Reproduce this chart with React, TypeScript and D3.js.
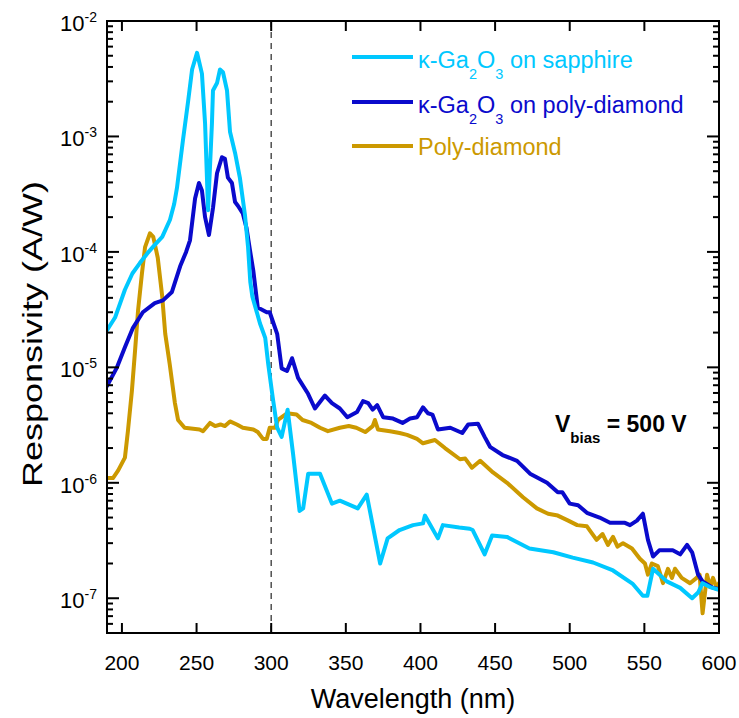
import React from "react";
import * as d3 from "d3";

// wavelength (nm) and responsivity (A/W)
const sapphireWl = [190, 195.4, 202, 207, 212, 217, 222, 227, 232.2, 235, 236.9, 240.9, 244.3, 247, 250.3, 253.6, 255.7, 257.7, 260.3, 261, 263.7, 265.7, 267.7, 270.4, 272.4, 275.8, 279, 282.4, 284.5, 286, 287.4, 292.5, 296, 298, 301, 304, 307, 311, 314.6, 319, 321.4, 324.8, 332.7, 340.7, 346, 358, 364, 373, 378, 386, 395, 401.7, 403, 411.7, 415, 426, 433, 435, 443, 448, 458, 473, 489, 502, 515.6, 529, 542, 549, 552, 555.8, 565, 574, 582, 586, 589, 594, 600];
const sapphireR = [2.1e-5, 2.7e-5, 4.7e-5, 6.5e-5, 8e-5, 9.7e-5, 1.15e-4, 1.35e-4, 1.9e-4, 2.6e-4, 3.6e-4, 9.3e-4, 2.0e-3, 3.8e-3, 5.3e-3, 3.5e-3, 1.3e-3, 2.3e-4, 1.3e-3, 2.5e-3, 2.9e-3, 3.8e-3, 3.6e-3, 2.5e-3, 1.1e-3, 7.2e-4, 4.4e-4, 2.1e-4, 1.1e-4, 5.5e-5, 4.1e-5, 2.4e-5, 1.8e-5, 1.07e-5, 5.5e-6, 3.0e-6, 2.5e-6, 4.3e-6, 1.8e-6, 5.7e-7, 6.0e-7, 1.2e-6, 1.2e-6, 6.6e-7, 7.0e-7, 6.0e-7, 7.9e-7, 2.0e-7, 3.3e-7, 3.9e-7, 4.3e-7, 4.45e-7, 5.2e-7, 3.3e-7, 4.3e-7, 4.1e-7, 4.0e-7, 3.9e-7, 2.4e-7, 3.5e-7, 3.4e-7, 2.7e-7, 2.5e-7, 2.25e-7, 2.04e-7, 1.74e-7, 1.34e-7, 1.05e-7, 1.05e-7, 1.8e-7, 1.4e-7, 1.23e-7, 1.0e-7, 1.12e-7, 1.35e-7, 1.25e-7, 1.18e-7];

const polyGaWl = [190, 196.7, 202, 207.4, 214, 222, 227.5, 233.5, 239, 243, 245.6, 249, 251.6, 253.6, 255.7, 258.3, 261, 263.7, 267, 269, 271, 273.7, 275.8, 277.8, 281, 283.5, 285.8, 288, 291, 297, 299, 304, 307, 310.6, 314, 318, 324.7, 329.3, 336, 340.7, 346, 351, 357.5, 361.5, 365, 368, 371, 375, 381.6, 388, 393, 397.7, 401.7, 405, 408, 411.7, 420, 428, 432, 438.5, 443, 446.6, 455, 464.7, 473.4, 484.8, 492, 495, 500, 505.6, 511.5, 520, 527, 537, 540.4, 545, 549, 552.4, 555.8, 560, 569, 574, 578.6, 582, 586, 589, 596, 600];
const polyGaR = [6.9e-6, 1.0e-5, 1.49e-5, 2.2e-5, 3.0e-5, 3.6e-5, 3.8e-5, 4.5e-5, 7.5e-5, 1.0e-4, 1.26e-4, 2.9e-4, 3.95e-4, 3.4e-4, 2.0e-4, 1.4e-4, 2.4e-4, 4.8e-4, 6.6e-4, 6.4e-4, 4.4e-4, 3.95e-4, 2.7e-4, 2.5e-4, 2.15e-4, 1.6e-4, 1.03e-4, 6.9e-5, 3.3e-5, 3.0e-5, 3.0e-5, 1.95e-5, 9.8e-6, 9.3e-6, 1.2e-5, 8.1e-6, 5.9e-6, 4.4e-6, 5.7e-6, 4.9e-6, 4.4e-6, 3.7e-6, 4.1e-6, 5.1e-6, 4.9e-6, 4.3e-6, 4.7e-6, 3.7e-6, 3.6e-6, 3.3e-6, 3.6e-6, 3.7e-6, 4.5e-6, 4.0e-6, 3.9e-6, 2.9e-6, 3.0e-6, 2.7e-6, 3.2e-6, 3.25e-6, 2.5e-6, 2.05e-6, 1.74e-6, 1.55e-6, 1.2e-6, 1.0e-6, 8.3e-7, 8.3e-7, 6.6e-7, 6.4e-7, 5.5e-7, 5.0e-7, 4.5e-7, 4.5e-7, 4.3e-7, 4.7e-7, 5.4e-7, 3.2e-7, 2.3e-7, 2.6e-7, 2.6e-7, 2.4e-7, 2.9e-7, 2.5e-7, 1.6e-7, 1.4e-7, 1.23e-7, 1.2e-7];

const diamondWl = [190, 194, 197.5, 202, 204, 206.7, 208.8, 210.8, 213.4, 215.5, 218.8, 221, 224, 227, 229, 232, 235.5, 237.6, 242, 252, 254.3, 259, 262.4, 266, 269, 272.4, 277, 281, 288, 291, 294.5, 297, 299, 302.6, 304.5, 310.6, 317, 321, 327, 332.7, 338, 346, 352, 357, 363, 368, 369.5, 371.5, 379.6, 386, 391, 397.7, 401.7, 409.7, 416.4, 426.5, 430, 434.5, 440, 448.6, 458, 468.7, 478, 485.5, 492, 499, 505, 511.5, 518, 522, 525.6, 529, 532, 535.7, 541.7, 547, 550.4, 552.4, 555, 559, 562.5, 565.8, 568.5, 570.5, 575, 580.6, 585, 587, 589, 592, 594, 596, 598.7, 600];
const diamondR = [1.1e-6, 1.1e-6, 1.28e-6, 1.65e-6, 2.8e-6, 6.3e-6, 1.4e-5, 3.1e-5, 6.5e-5, 1.1e-4, 1.45e-4, 1.35e-4, 8.9e-5, 4.1e-5, 1.96e-5, 1.07e-5, 4.9e-6, 3.5e-6, 3.0e-6, 2.9e-6, 2.8e-6, 3.3e-6, 3.1e-6, 3.2e-6, 3.1e-6, 3.4e-6, 3.2e-6, 3.0e-6, 2.9e-6, 2.75e-6, 2.4e-6, 2.4e-6, 3.0e-6, 3.0e-6, 3.5e-6, 4.0e-6, 3.9e-6, 3.5e-6, 3.3e-6, 3.0e-6, 2.8e-6, 3.0e-6, 3.1e-6, 3.0e-6, 2.75e-6, 3.1e-6, 3.5e-6, 2.9e-6, 2.8e-6, 2.7e-6, 2.6e-6, 2.4e-6, 2.2e-6, 2.35e-6, 2.0e-6, 1.6e-6, 1.62e-6, 1.35e-6, 1.55e-6, 1.23e-6, 1.0e-6, 7.5e-7, 6.0e-7, 5.4e-7, 5.2e-7, 4.7e-7, 4.3e-7, 4.2e-7, 3.2e-7, 3.6e-7, 2.9e-7, 3.4e-7, 2.8e-7, 3.0e-7, 2.7e-7, 2.2e-7, 2.0e-7, 1.6e-7, 2.0e-7, 1.9e-7, 1.35e-7, 1.8e-7, 1.5e-7, 1.8e-7, 1.5e-7, 1.35e-7, 1.5e-7, 1.6e-7, 7.4e-8, 1.6e-7, 1.25e-7, 1.5e-7, 1.2e-7, 1.35e-7];

const xTicks = [200, 250, 300, 350, 400, 450, 500, 550, 600];
const yDecades = [-7, -6, -5, -4, -3, -2];

const COL_SAPPHIRE = "#00C8FF";
const COL_POLY = "#0A0ACC";
const COL_DIAMOND = "#CC9900";

const W = 739;
const H = 718;
const left = 107, right = 719, top = 21, bottom = 633;

export default function App() {
  const x = d3.scaleLinear().domain([190, 600]).range([left, right]);
  const y = d3.scaleLog().domain([5e-8, 1e-2]).range([bottom, top]);

  const line = d3
    .line<[number, number]>()
    .x((d) => x(d[0]))
    .y((d) => y(d[1]));

  const series = [
    { wl: diamondWl, r: diamondR, color: COL_DIAMOND },
    { wl: polyGaWl, r: polyGaR, color: COL_POLY },
    { wl: sapphireWl, r: sapphireR, color: COL_SAPPHIRE },
  ];

  // minor ticks for the log axis
  const minor: number[] = [];
  for (let e = -8; e <= -3; e++) {
    for (let m = 2; m <= 9; m++) {
      const v = m * Math.pow(10, e);
      if (v >= 5e-8 && v < 1e-2) minor.push(v);
    }
  }

  const font = "Arial, 'Liberation Sans', sans-serif";

  const legend = [
    { label: "sapphire", color: COL_SAPPHIRE, y: 57 },
    { label: "poly-diamond", color: COL_POLY, y: 102 },
  ];

  return (
    <svg
      width={W}
      height={H}
      style={{ position: "absolute", left: 0, top: 0, background: "#fff" }}
      fontFamily={font}
    >
      <defs>
        <clipPath id="plot">
          <rect x={left} y={top} width={right - left} height={bottom - top} />
        </clipPath>
      </defs>

      {/* dashed marker at 300 nm */}
      <line
        x1={x(300)}
        x2={x(300)}
        y1={top}
        y2={bottom}
        stroke="#444"
        strokeWidth={1.4}
        strokeDasharray="6,5"
      />

      <g clipPath="url(#plot)">
        {series.map((s, i) => (
          <path
            key={i}
            d={line(s.wl.map((w, j) => [w, s.r[j]] as [number, number])) || ""}
            fill="none"
            stroke={s.color}
            strokeWidth={4}
            strokeLinejoin="round"
            strokeLinecap="round"
          />
        ))}
      </g>

      {/* frame */}
      <rect x={left} y={top} width={right - left} height={bottom - top} fill="none" stroke="#000" strokeWidth={2} />

      {/* x ticks top and bottom */}
      {xTicks.map((t) => (
        <g key={t}>
          <line x1={x(t)} x2={x(t)} y1={bottom} y2={bottom - 10} stroke="#000" strokeWidth={2} />
          <line x1={x(t)} x2={x(t)} y1={top} y2={top + 10} stroke="#000" strokeWidth={2} />
          <text x={x(t)} y={670} textAnchor="middle" fontSize={21} fill="#000">
            {t}
          </text>
        </g>
      ))}

      {/* y ticks left and right */}
      {yDecades.map((e) => (
        <g key={e}>
          <line x1={left} x2={left + 12} y1={y(Math.pow(10, e))} y2={y(Math.pow(10, e))} stroke="#000" strokeWidth={2} />
          <line x1={right} x2={right - 12} y1={y(Math.pow(10, e))} y2={y(Math.pow(10, e))} stroke="#000" strokeWidth={2} />
          <text x={97} y={y(Math.pow(10, e)) + 10} textAnchor="end" fontSize={22} fill="#000">
            10
            <tspan fontSize={14} dy={-9}>
              {e}
            </tspan>
          </text>
        </g>
      ))}
      {minor.map((v) => (
        <g key={v}>
          <line x1={left} x2={left + 6} y1={y(v)} y2={y(v)} stroke="#000" strokeWidth={2} />
          <line x1={right} x2={right - 6} y1={y(v)} y2={y(v)} stroke="#000" strokeWidth={2} />
        </g>
      ))}

      {/* axis titles */}
      <text x={413} y={708} textAnchor="middle" fontSize={27} fill="#000">
        Wavelength (nm)
      </text>
      <text
        transform={`translate(42, 334) rotate(-90)`}
        textAnchor="middle"
        fontSize={28}
        fill="#000"
        textLength={306}
        lengthAdjust="spacingAndGlyphs"
      >
        Responsivity (A/W)
      </text>

      {/* legend */}
      {legend.map((l) => (
        <g key={l.label}>
          <line x1={352} x2={413} y1={l.y} y2={l.y} stroke={l.color} strokeWidth={4} />
          <text x={418} y={l.y + 11} fontSize={23.5} fill={l.color}>
            κ-Ga
            <tspan fontSize={14.5} dy={11}>2</tspan>
            <tspan dy={-11}>O</tspan>
            <tspan fontSize={14.5} dy={11}>3</tspan>
            <tspan dy={-11}>{" on " + l.label}</tspan>
          </text>
        </g>
      ))}
      <line x1={352} x2={413} y1={146} y2={146} stroke={COL_DIAMOND} strokeWidth={4} />
      <text x={418} y={155} fontSize={23.5} fill={COL_DIAMOND}>
        Poly-diamond
      </text>

      {/* bias annotation */}
      <text x={555} y={432} fontSize={23} fontWeight="bold" fill="#000">
        V
        <tspan fontSize={15} dy={11}>bias</tspan>
        <tspan dy={-11}> = 500 V</tspan>
      </text>
    </svg>
  );
}
